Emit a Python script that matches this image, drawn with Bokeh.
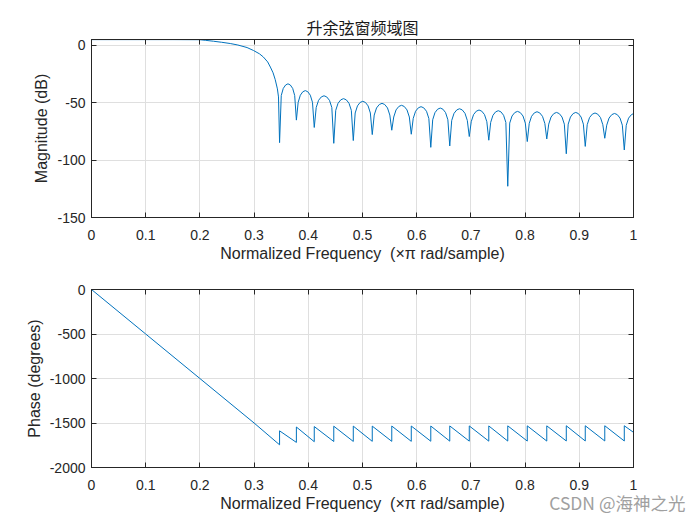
from bokeh.plotting import figure
from bokeh.layouts import column
from bokeh.models import Range1d, FixedTicker, LinearAxis, Title
from bokeh.embed import file_html
from bokeh.resources import INLINE

# ---------------- data ----------------
title_text = "升余弦窗频域图"
x_label = "Normalized Frequency \u00a0(×π rad/sample)"
mag_label = "Magnitude (dB)"
phase_label = "Phase (degrees)"
watermark = "CSDN @海神之光"

freq_ticks = [0, 0.1, 0.2, 0.3, 0.4, 0.5, 0.6, 0.7, 0.8, 0.9, 1]
freq_tick_labels = ["0", "0.1", "0.2", "0.3", "0.4", "0.5", "0.6", "0.7", "0.8", "0.9", "1"]
mag_ticks = [-150, -100, -50, 0]
mag_tick_labels = ["-150", "-100", "-50", "0"]
phase_ticks = [-2000, -1500, -1000, -500, 0]
phase_tick_labels = ["-2000", "-1500", "-1000", "-500", "0"]

# passband + transition band
pass_freq = [0.0, 0.05, 0.1, 0.15, 0.2, 0.21, 0.225, 0.24, 0.256, 0.27, 0.287, 0.299,
             0.31, 0.317, 0.325, 0.33, 0.335, 0.339, 0.343, 0.345, 0.347]
pass_db = [4.9, 4.9, 4.9, 4.9, 4.8, 4.3, 3.5, 2.6, 1.5, 0.2, -2.0, -4.6,
           -7.5, -10.2, -14.5, -19.0, -24.0, -30.0, -38.0, -45.0, -84.8]

# stopband side lobes (each row: points of one lobe, ending at the next null)
stop_freq = [
    0.3501, 0.3538, 0.3582, 0.3625, 0.3668, 0.3712, 0.3749, 0.378,
    0.3813, 0.3853, 0.3899, 0.3945, 0.3991, 0.4037, 0.4077, 0.411,
    0.4146, 0.4189, 0.424, 0.429, 0.434, 0.4391, 0.4434, 0.447,
    0.4506, 0.4549, 0.46, 0.465, 0.47, 0.4751, 0.4794, 0.483,
    0.4865, 0.4907, 0.4956, 0.5005, 0.5054, 0.5103, 0.5145, 0.518,
    0.5216, 0.5259, 0.531, 0.536, 0.541, 0.5461, 0.5504, 0.554,
    0.5576, 0.5619, 0.567, 0.572, 0.577, 0.5821, 0.5864, 0.590,
    0.5936, 0.5979, 0.603, 0.608, 0.613, 0.6181, 0.6224, 0.626,
    0.6295, 0.6337, 0.6386, 0.6435, 0.6484, 0.6533, 0.6575, 0.661,
    0.6646, 0.6689, 0.674, 0.679, 0.684, 0.6891, 0.6934, 0.697,
    0.7006, 0.7049, 0.71, 0.715, 0.72, 0.7251, 0.7294, 0.733,
    0.7365, 0.7407, 0.7456, 0.7505, 0.7554, 0.7603, 0.7645, 0.768,
    0.7716, 0.7759, 0.781, 0.786, 0.791, 0.7961, 0.8004, 0.804,
    0.8076, 0.8119, 0.817, 0.822, 0.827, 0.8321, 0.8364, 0.840,
    0.8436, 0.8479, 0.853, 0.858, 0.863, 0.8681, 0.8724, 0.876,
    0.8795, 0.8837, 0.8886, 0.8935, 0.8984, 0.9033, 0.9075, 0.911,
    0.9146, 0.9189, 0.924, 0.929, 0.934, 0.9391, 0.9434, 0.947,
    0.9506, 0.9549, 0.96, 0.965, 0.97, 0.9751, 0.9794, 0.983,
    0.9866, 0.9909, 0.996, 1.0,
]
stop_db = [
    -43.8, -37.6, -34.6, -33.6, -34.6, -37.6, -43.8, -65.2,
    -49.7, -43.5, -40.5, -39.5, -40.5, -43.5, -49.7, -71.6,
    -54.2, -48.0, -45.0, -44.0, -45.0, -48.0, -54.2, -85.4,
    -56.7, -50.5, -47.5, -46.5, -47.5, -50.5, -56.7, -83.0,
    -59.0, -52.8, -49.8, -48.8, -49.8, -52.8, -59.0, -77.8,
    -60.8, -54.6, -51.6, -50.6, -51.6, -54.6, -60.8, -74.0,
    -62.5, -56.3, -53.3, -52.3, -53.3, -56.3, -62.5, -77.5,
    -63.7, -57.5, -54.5, -53.5, -54.5, -57.5, -63.7, -88.9,
    -64.9, -58.7, -55.7, -54.7, -55.7, -58.7, -64.9, -87.7,
    -65.5, -59.3, -56.3, -55.3, -56.3, -59.3, -65.5, -79.5,
    -66.6, -60.4, -57.4, -56.4, -57.4, -60.4, -66.6, -82.7,
    -67.2, -61.0, -58.0, -57.0, -58.0, -61.0, -67.2, -122.8,
    -67.8, -61.6, -58.6, -57.6, -58.6, -61.6, -67.8, -83.9,
    -68.1, -61.9, -58.9, -57.9, -58.9, -61.9, -68.1, -81.6,
    -68.7, -62.5, -59.5, -58.5, -59.5, -62.5, -68.7, -94.5,
    -68.7, -62.5, -59.5, -58.5, -59.5, -62.5, -68.7, -88.1,
    -69.2, -63.0, -60.0, -59.0, -60.0, -63.0, -69.2, -81.0,
    -69.6, -63.4, -60.4, -59.4, -60.4, -63.4, -69.6, -91.2,
    -69.7, -63.5, -60.5, -59.5,
]

phase_freq = [0.0, 0.1, 0.2, 0.3, 0.347, 0.347, 0.378, 0.378, 0.411, 0.411,
              0.447, 0.447, 0.483, 0.483, 0.518, 0.518, 0.554, 0.554, 0.590, 0.590,
              0.626, 0.626, 0.661, 0.661, 0.697, 0.697, 0.733, 0.733, 0.768, 0.768,
              0.804, 0.804, 0.840, 0.840, 0.876, 0.876, 0.911, 0.911, 0.947, 0.947,
              0.983, 0.983, 1.0]
phase_deg = [0, -500, -1000, -1500, -1745, -1588, -1718, -1545, -1710, -1540,
             -1708, -1536, -1707, -1535, -1706, -1535, -1706, -1534, -1706, -1534,
             -1705, -1534, -1704, -1533, -1704, -1533, -1704, -1533, -1703, -1532,
             -1703, -1532, -1703, -1532, -1702, -1531, -1702, -1531, -1702, -1531,
             -1702, -1531, -1605]

mag_freq = pass_freq + stop_freq
mag_db = pass_db + stop_db

# ---------------- style ----------------
LINE = "#0072BD"
AX = "#262626"
GRID = "#dfdfdf"
FONT = "Liberation Sans"
CJK = "Noto Sans CJK SC"


def box_axis(ticks):
    # tick marks only (labels not drawn) for the top / right sides of the box
    return LinearAxis(ticker=FixedTicker(ticks=ticks), major_label_text_font_size="1px",
                      major_label_text_color=None, major_tick_in=5, major_tick_out=0,
                      major_label_standoff=0, axis_line_color=AX, major_tick_line_color=AX,
                      minor_tick_line_color=None)


def style_axes(p, yticks, ylabels, ylabel):
    p.outline_line_color = AX
    p.outline_line_width = 1
    p.xgrid.ticker = FixedTicker(ticks=freq_ticks)
    p.ygrid.ticker = FixedTicker(ticks=yticks)
    for g in (p.xgrid, p.ygrid):
        g.grid_line_color = GRID
        g.grid_line_width = 1
    xa = p.xaxis[0]
    ya = p.yaxis[0]
    xa.ticker = FixedTicker(ticks=freq_ticks)
    xa.major_label_overrides = dict(zip(freq_ticks, freq_tick_labels))
    ya.ticker = FixedTicker(ticks=yticks)
    ya.major_label_overrides = dict(zip(yticks, ylabels))
    xa.axis_label = x_label
    ya.axis_label = ylabel
    for a in (xa, ya):
        a.axis_line_color = AX
        a.major_tick_line_color = AX
        a.major_tick_in = 5
        a.major_tick_out = 0
        a.minor_tick_line_color = None
        a.major_label_text_font = FONT
        a.major_label_text_font_size = "14px"
        a.major_label_text_color = AX
        a.axis_label_text_font = FONT
        a.axis_label_text_font_size = "16px"
        a.axis_label_text_font_style = "normal"
        a.axis_label_text_color = AX
    xa.major_label_standoff = 12
    xa.axis_label_standoff = 2
    ya.major_label_standoff = 6
    ya.axis_label_standoff = 4
    p.add_layout(box_axis(freq_ticks), "above")
    p.add_layout(box_axis(yticks), "right")


p1 = figure(frame_width=542, frame_height=178, output_backend="svg", toolbar_location=None,
            x_range=Range1d(0, 1), y_range=Range1d(-150, 5),
            min_border_left=91, min_border_right=59, min_border_top=39, min_border_bottom=48,
            background_fill_color="white", border_fill_color="white")
p1.line(mag_freq, mag_db, line_color=LINE, line_width=1)
style_axes(p1, mag_ticks, mag_tick_labels, mag_label)
p1.title.text = title_text
p1.title.align = "center"
p1.title.text_font = CJK
p1.title.text_font_size = "16px"
p1.title.text_font_style = "normal"
p1.title.text_color = "#1a1a1a"
p1.title.standoff = 1

p2 = figure(frame_width=542, frame_height=178, output_backend="svg", toolbar_location=None,
            x_range=Range1d(0, 1), y_range=Range1d(-2000, 0),
            min_border_left=91, min_border_right=59, min_border_top=24, min_border_bottom=50,
            background_fill_color="white", border_fill_color="white")
p2.line(phase_freq, phase_deg, line_color=LINE, line_width=1)
style_axes(p2, phase_ticks, phase_tick_labels, phase_label)
# watermark on the same line as the x-axis label, right of the frame
p2.add_layout(Title(text=watermark, align="right", vertical_align="top", offset=-52,
                    standoff=-50, text_font=CJK, text_font_size="17.5px",
                    text_font_style="normal", text_color="#a0a0a0"), "below")

layout = column(p1, p2, spacing=0)
open("out.html", "w").write(file_html(layout, INLINE))
